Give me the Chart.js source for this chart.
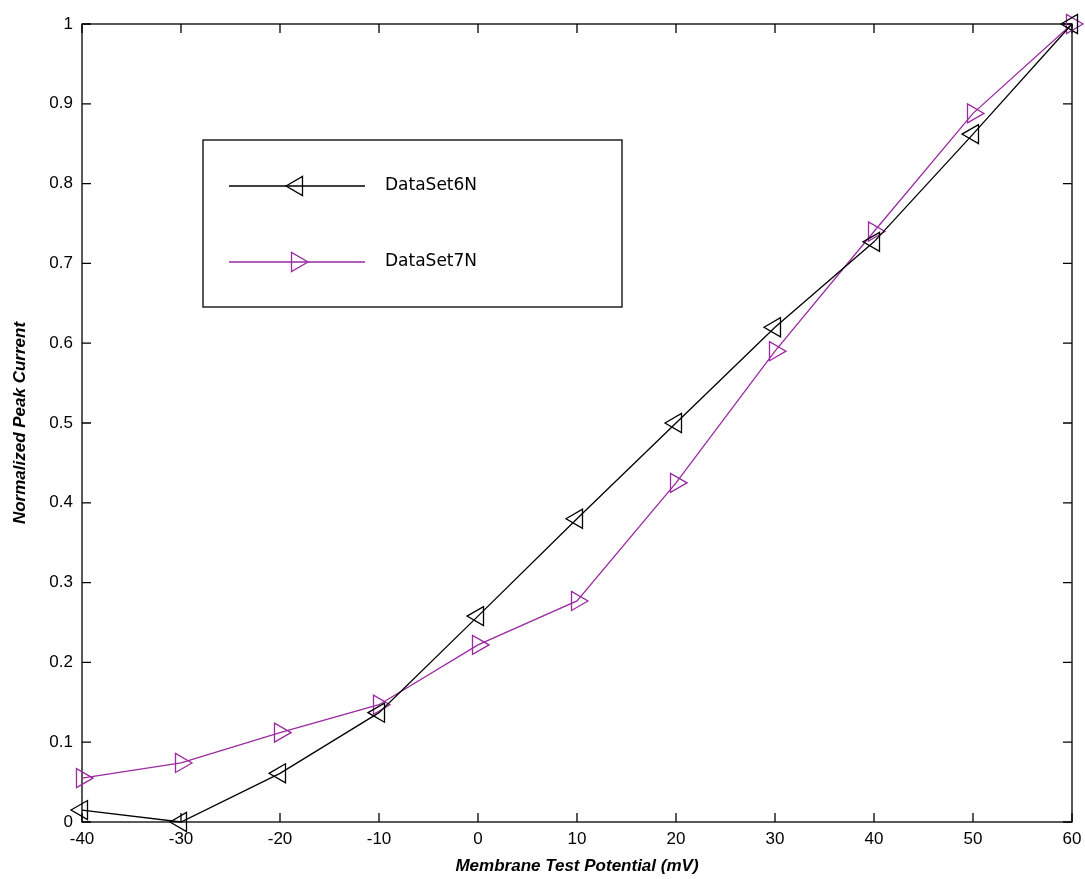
<!DOCTYPE html>
<html>
<head>
<meta charset="utf-8">
<script src="https://cdn.jsdelivr.net/npm/chart.js@4/dist/chart.umd.min.js"></script>
<style>
    html, body { margin: 0; padding: 0; background: #fff; }
    #wrap { width: 1085px; height: 879px; }
</style>
</head>
<body>
<div id="wrap"><canvas id="chart"></canvas></div>
<script>
// membrane test potential (mV)
const potentials = [-40, -30, -20, -10, 0, 10, 20, 30, 40, 50, 60];
const dataSet6N = [0.015, 0.0, 0.061, 0.137, 0.258, 0.38, 0.5, 0.62, 0.727, 0.862, 1.0];
const dataSet7N = [0.055, 0.074, 0.112, 0.147, 0.222, 0.277, 0.425, 0.59, 0.74, 0.888, 1.0];
const seriesNames = ['DataSet6N', 'DataSet7N'];
const xTicks = [-40, -30, -20, -10, 0, 10, 20, 30, 40, 50, 60];
const yTicks = [0, 0.1, 0.2, 0.3, 0.4, 0.5, 0.6, 0.7, 0.8, 0.9, 1];

const black = '#000000';
const purple = '#9a2aa0';

function toPoints(values) {
    return potentials.map((x, i) => ({ x: x, y: values[i] }));
}

// box + inward tick marks on all four sides
const frame = {
    id: 'frame',
    beforeDatasetsDraw(chart) {
        const { ctx, chartArea: a, scales } = chart;
        ctx.save();
        ctx.strokeStyle = '#000';
        ctx.lineWidth = 1.3;
        ctx.strokeRect(a.left, a.top, a.right - a.left, a.bottom - a.top);
        const len = 9;
        ctx.beginPath();
        xTicks.forEach(v => {
            const px = scales.x.getPixelForValue(v);
            ctx.moveTo(px, a.bottom); ctx.lineTo(px, a.bottom - len);
            ctx.moveTo(px, a.top); ctx.lineTo(px, a.top + len);
        });
        yTicks.forEach(v => {
            const py = scales.y.getPixelForValue(v);
            ctx.moveTo(a.left, py); ctx.lineTo(a.left + len, py);
            ctx.moveTo(a.right, py); ctx.lineTo(a.right - len, py);
        });
        ctx.stroke();
        ctx.restore();
    }
};

// legend box drawn inside the plot like the original
const boxLegend = {
    id: 'boxLegend',
    afterDraw(chart) {
        const ctx = chart.ctx;
        const bx = 203, by = 140, bw = 419, bh = 167;
        ctx.save();
        ctx.fillStyle = '#fff';
        ctx.fillRect(bx, by, bw, bh);
        ctx.strokeStyle = '#000';
        ctx.lineWidth = 1.3;
        ctx.strokeRect(bx, by, bw, bh);
        const rows = [
            { y: 186, color: black, rot: -90 },
            { y: 262, color: purple, rot: 90 }
        ];
        rows.forEach((r, i) => {
            ctx.strokeStyle = r.color;
            ctx.lineWidth = 1.3;
            ctx.beginPath();
            ctx.moveTo(229, r.y);
            ctx.lineTo(365, r.y);
            ctx.stroke();
            ctx.fillStyle = 'rgba(0,0,0,0)';
            Chart.helpers.drawPoint(ctx, {
                pointStyle: 'triangle', rotation: r.rot, radius: 11, borderWidth: 1.3
            }, 297, r.y);
            ctx.fillStyle = '#000';
            ctx.font = '17px "DejaVu Sans"';
            ctx.textBaseline = 'middle';
            ctx.fillText(seriesNames[i], 385, r.y);
        });
        ctx.restore();
    }
};

function makeDataset(label, values, color, rot) {
    return {
        label: label,
        data: toPoints(values),
        borderColor: color,
        backgroundColor: 'rgba(0,0,0,0)',
        borderWidth: 1.3,
        pointStyle: 'triangle',
        pointRotation: rot,
        pointRadius: 11,
        pointHoverRadius: 11,
        pointBorderWidth: 1.3,
        pointBorderColor: color,
        pointBackgroundColor: 'rgba(0,0,0,0)',
        tension: 0,
        clip: false
    };
}

new Chart(document.getElementById('chart'), {
    type: 'line',
    data: {
        datasets: [
            makeDataset(seriesNames[0], dataSet6N, black, -90),
            makeDataset(seriesNames[1], dataSet7N, purple, 90)
        ]
    },
    options: {
        responsive: true,
        maintainAspectRatio: false,
        animation: false,
        layout: { autoPadding: false, padding: { left: 10, top: 24, right: 13, bottom: 0 } },
        plugins: {
            legend: { display: false },
            tooltip: { enabled: false }
        },
        scales: {
            x: {
                type: 'linear',
                min: -40,
                max: 60,
                grid: { display: false, drawTicks: false },
                border: { display: false },
                afterBuildTicks: s => { s.ticks = xTicks.map(v => ({ value: v })); },
                afterFit: s => { s.height = 57; s.paddingLeft = 0; s.paddingRight = 0; },
                ticks: {
                    color: '#000',
                    padding: 7,
                    font: { family: 'Liberation Sans', size: 17 },
                    maxRotation: 0,
                    autoSkip: false
                },
                title: {
                    display: true,
                    text: 'Membrane Test Potential (mV)',
                    color: '#000',
                    padding: { top: 0, bottom: 2 },
                    font: { family: 'Liberation Sans', size: 17, weight: 'bold', style: 'italic' }
                }
            },
            y: {
                min: 0,
                max: 1,
                grid: { display: false, drawTicks: false },
                border: { display: false },
                afterBuildTicks: s => { s.ticks = yTicks.map(v => ({ value: v })); },
                afterFit: s => { s.width = 72; s.paddingTop = 0; s.paddingBottom = 0; },
                ticks: {
                    color: '#000',
                    padding: 9,
                    font: { family: 'Liberation Sans', size: 17 },
                    callback: v => String(Math.round(v * 10) / 10)
                },
                title: {
                    display: true,
                    text: 'Normalized Peak Current',
                    color: '#000',
                    padding: { top: 0, bottom: 0 },
                    font: { family: 'Liberation Sans', size: 17, weight: 'bold', style: 'italic' }
                }
            }
        }
    },
    plugins: [frame, boxLegend]
});
</script>
</body>
</html>
